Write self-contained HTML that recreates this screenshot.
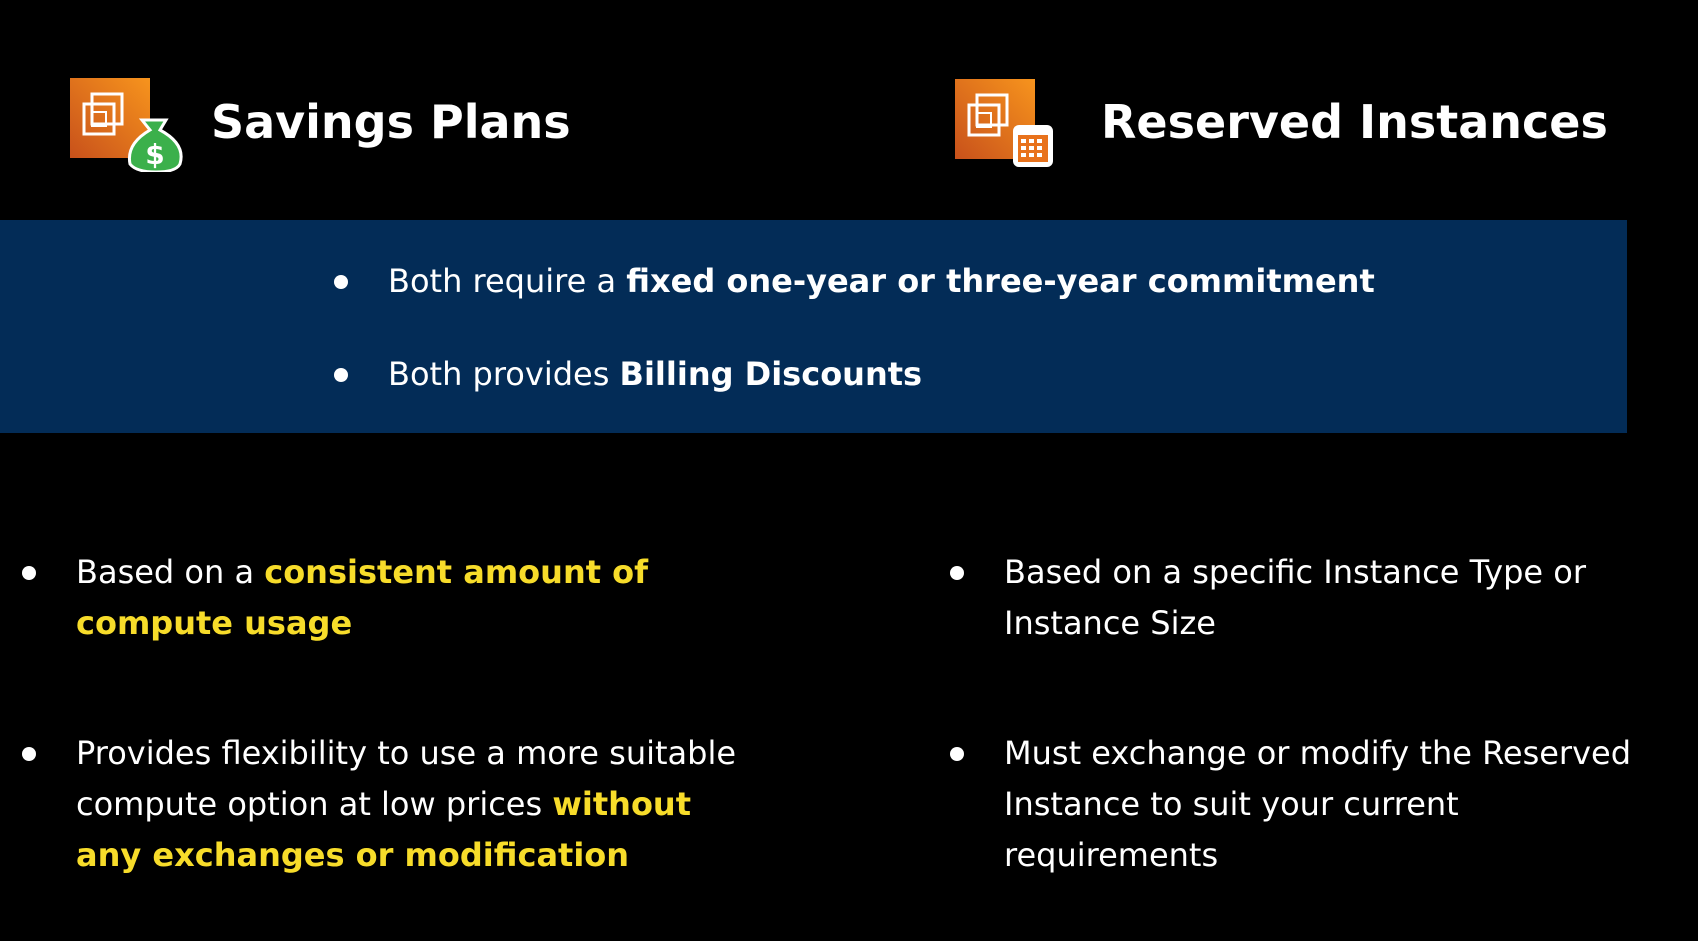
<!DOCTYPE html>
<html><head><meta charset="utf-8">
<style>
body{margin:0;width:1698px;height:941px;background:#000;overflow:hidden;font-family:"DejaVu Sans","Liberation Sans",sans-serif;color:#fff;position:relative}
.abs{position:absolute;white-space:nowrap}
h1{margin:0;font-size:46px;font-weight:bold;position:absolute;white-space:nowrap;line-height:1}
.band{position:absolute;left:0;top:220px;width:1627px;height:213px;background:#032c57}
.t{position:absolute;font-size:32px;line-height:51px;white-space:nowrap}
.y{color:#f7dc2a;font-weight:bold}
.dot{position:absolute;width:14px;height:14px;border-radius:50%;background:#fff}
</style></head><body>
<svg class="abs" style="left:70px;top:78px" width="116" height="94" viewBox="0 0 116 94">
<defs><linearGradient id="g" x1="0" y1="1" x2="1" y2="0"><stop offset="0" stop-color="#c8511b"/><stop offset="1" stop-color="#f7941d"/></linearGradient></defs>
<rect x="0" y="0" width="80" height="80" fill="url(#g)"/>
<rect x="22" y="16" width="30" height="30" fill="none" stroke="#fff" stroke-width="3"/>
<rect x="14" y="26" width="30" height="30" fill="none" stroke="#fff" stroke-width="3"/>
<rect x="22" y="34" width="14" height="14" fill="none" stroke="#fff" stroke-width="2"/>
<path d="M72 42 L96 42 L90 52 Q116 66 110 86 Q106 94 86 94 Q66 94 60 86 Q56 66 80 52 Z" fill="#3bb04b" stroke="#fff" stroke-width="3"/>
<text x="85" y="86" font-size="28" font-weight="bold" fill="#fff" text-anchor="middle" font-family="DejaVu Sans">$</text>
</svg>
<h1 style="left:211px;top:99px">Savings Plans</h1>
<svg class="abs" style="left:955px;top:79px" width="100" height="90" viewBox="0 0 100 90">
<rect x="0" y="0" width="80" height="80" fill="url(#g)"/>
<rect x="22" y="16" width="30" height="30" fill="none" stroke="#fff" stroke-width="3"/>
<rect x="14" y="26" width="30" height="30" fill="none" stroke="#fff" stroke-width="3"/>
<rect x="22" y="34" width="14" height="14" fill="none" stroke="#fff" stroke-width="2"/>
<rect x="58" y="46" width="40" height="42" rx="6" fill="#fff"/>
<rect x="63" y="56" width="30" height="27" fill="#e8721c"/>
<g fill="#fff"><rect x="66" y="60" width="5" height="4"/><rect x="74" y="60" width="5" height="4"/><rect x="82" y="60" width="5" height="4"/><rect x="66" y="67" width="5" height="4"/><rect x="74" y="67" width="5" height="4"/><rect x="82" y="67" width="5" height="4"/><rect x="66" y="74" width="5" height="4"/><rect x="74" y="74" width="5" height="4"/><rect x="82" y="74" width="5" height="4"/></g>
</svg>
<h1 style="left:1101px;top:99px">Reserved Instances</h1>
<div class="band"></div>
<div class="dot" style="left:334px;top:275px"></div>
<div class="t" style="left:388px;top:256px">Both require a <b>fixed one-year or three-year commitment</b></div>
<div class="dot" style="left:334px;top:368px"></div>
<div class="t" style="left:388px;top:349px">Both provides <b>Billing Discounts</b></div>
<div class="dot" style="left:22px;top:566px"></div>
<div class="t" style="left:76px;top:547px">Based on a <span class="y">consistent amount of</span><br><span class="y">compute usage</span></div>
<div class="dot" style="left:22px;top:747px"></div>
<div class="t" style="left:76px;top:728px">Provides flexibility to use a more suitable<br>compute option at low prices <span class="y">without</span><br><span class="y">any exchanges or modification</span></div>
<div class="dot" style="left:950px;top:566px"></div>
<div class="t" style="left:1004px;top:547px">Based on a specific Instance Type or<br>Instance Size</div>
<div class="dot" style="left:950px;top:747px"></div>
<div class="t" style="left:1004px;top:728px">Must exchange or modify the Reserved<br>Instance to suit your current<br>requirements</div>
</body></html>
